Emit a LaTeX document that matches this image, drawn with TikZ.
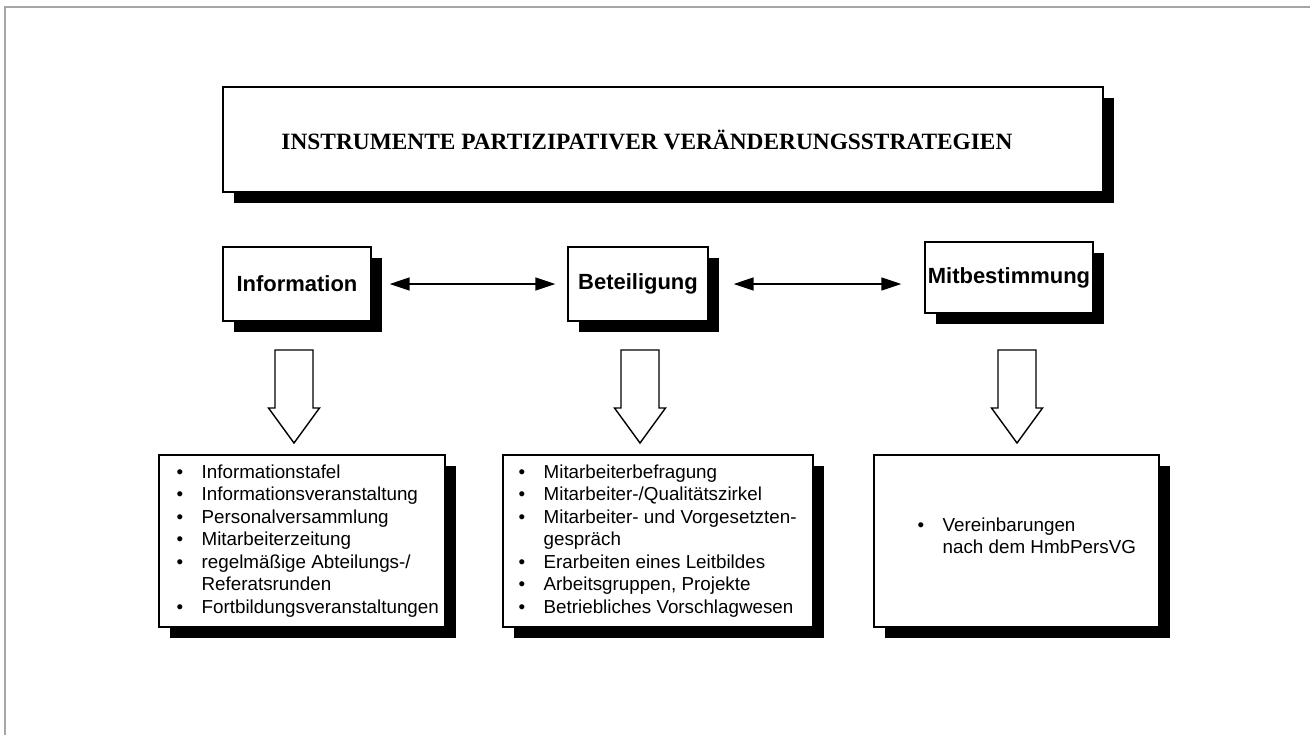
\documentclass[tikz,border=0pt]{standalone}
\usepackage{fontspec}
\setmainfont{Liberation Sans}
\newfontfamily\titlefont{Liberation Serif}
\usetikzlibrary{arrows.meta,positioning,shadows}

\newcommand{\itemline}[1]{\makebox[0.5cm][l]{\textbullet}#1}
\newcommand{\itemcont}[1]{\hspace*{0.5cm}#1}

\tikzset{
  box/.style={draw=black, line width=0.8pt, fill=white, inner sep=0pt,
    drop shadow={shadow xshift=0.22cm, shadow yshift=-0.22cm, fill=black, opacity=1}},
  headbox/.style={box, font=\titlefont\fontsize{13.3}{15}\selectfont\bfseries},
  levelbox/.style={box, font=\fontsize{12.5}{15}\selectfont\bfseries},
  listtext/.style={inner sep=0pt, align=left, font=\fontsize{10.7}{12.8}\selectfont},
  link/.style={line width=0.8pt,
    {Triangle[length=0.4cm,width=0.26cm]}-{Triangle[length=0.4cm,width=0.26cm]}},
  downarrow/.style={draw=black, line width=0.8pt, fill=white}
}

\begin{document}
\begin{tikzpicture}[x=0.02cm, y=-0.02cm]
\useasboundingbox (0,0) rectangle (1310,735);
\draw[gray!70, line width=0.9pt] (5,735) -- (5,7) -- (1310,7);

% title
\node[headbox, minimum width=17.6cm, minimum height=2.1cm] (head) at (663,139.5)
  {INSTRUMENTE PARTIZIPATIVER VERÄNDERUNGSSTRATEGIEN\hspace*{0.64cm}};

% three levels
\node[levelbox, minimum width=2.96cm, minimum height=1.48cm] (info) at (297,284) {Information};
\node[levelbox, minimum width=2.8cm, minimum height=1.48cm] (betei) at (638,284) {Beteiligung};
\node[levelbox, minimum width=3.36cm, minimum height=1.42cm] (mitbe) at (1009,277.5) {Mitbestimmung};

\draw[link, shorten <=0.36cm, shorten >=0.24cm] (info.east) -- (betei.west);
\draw[link, shorten <=0.5cm, shorten >=0.46cm] (betei.east) -- (betei.east -| mitbe.west);

% block arrows
\foreach \x in {294,640,1017}
  \draw[downarrow] (\x-19,350) -- (\x+19,350) -- (\x+19,408) -- (\x+25.5,408)
    -- (\x,443) -- (\x-25.5,408) -- (\x-19,408) -- cycle;

% lists
\node[box, minimum width=5.72cm, minimum height=3.44cm] (infolist) at (302,541) {};
\node[box, minimum width=6.2cm, minimum height=3.44cm] (beteilist) at (658,541) {};
\node[box, minimum width=5.7cm, minimum height=3.44cm] (mitbelist) at (1016.5,541) {};

\node[listtext, right=0.36cm of infolist.west] (infoitems) {%
  \itemline{Informationstafel}\\
  \itemline{Informationsveranstaltung}\\
  \itemline{Personalversammlung}\\
  \itemline{Mitarbeiterzeitung}\\
  \itemline{regelmäßige Abteilungs-/}\\
  \itemcont{Referatsrunden}\\
  \itemline{Fortbildungsveranstaltungen}};

\node[listtext, right=0.32cm of beteilist.west] (beteiitems) {%
  \itemline{Mitarbeiterbefragung}\\
  \itemline{Mitarbeiter-/Qualitätszirkel}\\
  \itemline{Mitarbeiter- und Vorgesetzten-}\\
  \itemcont{gespräch}\\
  \itemline{Erarbeiten eines Leitbildes}\\
  \itemline{Arbeitsgruppen, Projekte}\\
  \itemline{Betriebliches Vorschlagwesen}};

\node[listtext, right=0.88cm of mitbelist.west, yshift=0.1cm] (mitbeitems) {%
  \itemline{Vereinbarungen}\\
  \itemcont{nach dem HmbPersVG}};
\end{tikzpicture}
\end{document}
